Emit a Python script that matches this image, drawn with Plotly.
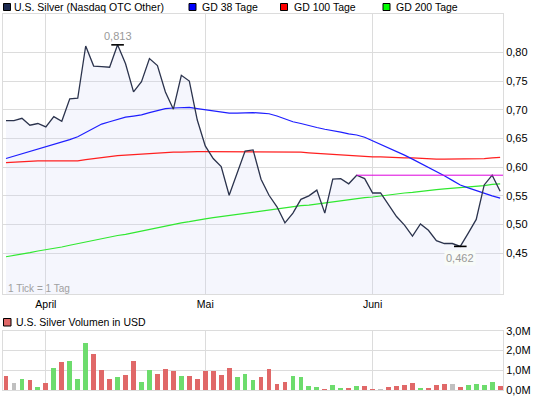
import plotly.graph_objects as go

# ---------------- data ----------------
month_labels = ["April", "Mai", "Juni"]
month_start_idx = [5, 25, 46]

price = [0.681, 0.681, 0.685, 0.673, 0.676, 0.670, 0.688, 0.680, 0.719, 0.720,
         0.811, 0.776, 0.775, 0.774, 0.813, 0.780, 0.731, 0.749, 0.789, 0.777,
         0.731, 0.701, 0.760, 0.750, 0.682, 0.637, 0.615, 0.601, 0.551, 0.589,
         0.628, 0.630, 0.579, 0.551, 0.531, 0.503, 0.520, 0.544, 0.550, 0.560,
         0.520, 0.579, 0.580, 0.571, 0.586, 0.580, 0.555, 0.555, 0.534, 0.514,
         0.499, 0.480, 0.501, 0.490, 0.472, 0.467, 0.467, 0.462, 0.485, 0.509,
         0.569, 0.586, 0.558]

gd38 = [0.615, 0.619, 0.623, 0.627, 0.631, 0.636, 0.640, 0.644, 0.648, 0.653,
        0.660, 0.668, 0.675, 0.679, 0.683, 0.687, 0.689, 0.691, 0.695, 0.699,
        0.702, 0.703, 0.704, 0.704, 0.702, 0.700, 0.698, 0.696, 0.694, 0.694,
        0.695, 0.695, 0.694, 0.693, 0.689, 0.684, 0.679, 0.676, 0.672, 0.669,
        0.666, 0.664, 0.661, 0.658, 0.656, 0.652, 0.646, 0.640, 0.634, 0.628,
        0.621, 0.614, 0.607, 0.600, 0.592, 0.585, 0.577, 0.569, 0.564, 0.559,
        0.555, 0.550, 0.546]

gd100 = [0.608, 0.609, 0.610, 0.611, 0.611, 0.611, 0.611, 0.611, 0.611, 0.611,
         0.613, 0.615, 0.617, 0.619, 0.620, 0.621, 0.622, 0.623, 0.624, 0.625,
         0.625, 0.626, 0.626, 0.627, 0.627, 0.627, 0.627, 0.627, 0.627, 0.626,
         0.626, 0.626, 0.626, 0.626, 0.626, 0.626, 0.626, 0.626, 0.625, 0.624,
         0.623, 0.622, 0.621, 0.620, 0.619, 0.619, 0.618, 0.618, 0.617, 0.617,
         0.616, 0.616, 0.615, 0.615, 0.614, 0.614, 0.614, 0.614, 0.615, 0.615,
         0.615, 0.616, 0.617]

gd200 = [0.444, 0.446, 0.449, 0.451, 0.454, 0.456, 0.459, 0.461, 0.464, 0.467,
         0.470, 0.472, 0.475, 0.478, 0.481, 0.483, 0.486, 0.489, 0.492, 0.494,
         0.497, 0.500, 0.503, 0.505, 0.508, 0.510, 0.512, 0.514, 0.516, 0.518,
         0.520, 0.522, 0.524, 0.525, 0.527, 0.529, 0.531, 0.533, 0.534, 0.536,
         0.538, 0.540, 0.541, 0.543, 0.545, 0.547, 0.548, 0.550, 0.552, 0.553,
         0.555, 0.556, 0.558, 0.559, 0.561, 0.562, 0.563, 0.565, 0.566, 0.567,
         0.568, 0.570, 0.571]

volume_m = [0.70, 0.35, 0.55, 0.50, 0.15, 0.35, 1.15, 1.45, 1.50, 0.55,
            2.40, 1.85, 1.05, 0.55, 0.65, 0.75, 1.50, 0.40, 1.05, 0.80,
            1.10, 1.00, 0.70, 0.70, 0.55, 1.00, 1.00, 0.75, 1.15, 0.65,
            0.80, 0.50, 0.65, 1.10, 0.30, 0.40, 0.70, 0.65, 0.20, 0.15,
            0.05, 0.25, 0.10, 0.10, 0.20, 0.20, 0.05, 0.05, 0.15, 0.20,
            0.25, 0.35, 0.10, 0.10, 0.25, 0.30, 0.30, 0.15, 0.25, 0.30,
            0.25, 0.40, 0.20]

volume_dir = ["r", "n", "g", "r", "g", "r", "g", "r", "g", "g",
              "g", "r", "r", "r", "g", "r", "r", "g", "g", "r",
              "r", "r", "g", "r", "r", "r", "r", "r", "r", "g",
              "g", "g", "r", "r", "r", "r", "g", "g", "g", "g",
              "r", "g", "g", "r", "g", "r", "r", "n", "r", "r",
              "r", "r", "g", "r", "r", "r", "n", "r", "g", "g",
              "g", "g", "r"]

price_ticks = [0.45, 0.50, 0.55, 0.60, 0.65, 0.70, 0.75, 0.80]
volume_ticks = [0, 1, 2, 3]
volume_ticktext = ["0,0M", "1,0M", "2,0M", "3,0M"]
resistance_start_idx = 44

# ---------------- layout geometry ----------------
W, H = 535, 398
ML, MR, MT, MB = 3, 32, 14, 8
PW, PH = W - ML - MR, H - MT - MB
FONT = "Liberation Sans, Arial, sans-serif"


def px(x):
    return (x - ML) / PW


def py(y):
    return (H - MB - y) / PH


day_px = 7.97
first_px = 6.0
x_range = [(ML - first_px) / day_px, (W - MR - first_px) / day_px]

idx = list(range(len(price)))
dir_colors = {"r": "#e06868", "g": "#6ddc6d", "n": "#c0c0c0"}
bar_colors = [dir_colors[d] for d in volume_dir]

fig = go.Figure()

# area fill under price
fig.add_trace(go.Scatter(x=idx, y=price, mode="lines", line=dict(width=0),
                         fill="tozeroy", fillcolor="rgba(205,210,245,0.2)",
                         hoverinfo="skip", showlegend=False))
# moving averages
fig.add_trace(go.Scatter(x=idx, y=gd200, mode="lines",
                         line=dict(color="#30e830", width=1.2), showlegend=False))
fig.add_trace(go.Scatter(x=idx, y=gd100, mode="lines",
                         line=dict(color="#ff2020", width=1.2), showlegend=False))
fig.add_trace(go.Scatter(x=idx, y=gd38, mode="lines",
                         line=dict(color="#1e1eff", width=1.2), showlegend=False))
# price line
fig.add_trace(go.Scatter(x=idx, y=price, mode="lines",
                         line=dict(color="#2b334d", width=1.3), showlegend=False))
# resistance line
res_level = price[resistance_start_idx]
fig.add_trace(go.Scatter(x=[resistance_start_idx, x_range[1]], y=[res_level, res_level],
                         mode="lines", line=dict(color="#dd00dd", width=1),
                         showlegend=False))
# max / min markers
pmax = max(price)
pmin = min(price)
imax = price.index(pmax)
imin = price.index(pmin)
fig.add_trace(go.Scatter(x=[imax, imin], y=[pmax, pmin], mode="markers",
                         marker=dict(symbol="line-ew", size=9,
                                     line=dict(color="#000000", width=1.6)),
                         showlegend=False))

# volume bars
fig.add_trace(go.Bar(x=idx, y=volume_m, marker=dict(color=bar_colors, line=dict(width=0)),
                     width=0.6, xaxis="x2", yaxis="y2", showlegend=False))

grid = "#dcdcdc"
axis_common = dict(showline=True, mirror=True, linecolor=grid, linewidth=1,
                   gridcolor=grid, gridwidth=1, zeroline=False, ticks="")

fig.update_layout(
    width=W, height=H,
    margin=dict(l=ML, r=MR, t=MT, b=MB),
    paper_bgcolor="white", plot_bgcolor="white",
    separators=",.",
    font=dict(family=FONT, size=11, color="#000000"),
    showlegend=False,
    bargap=0,
    xaxis=dict(domain=[0, 1], range=x_range, anchor="y",
               tickmode="array", tickvals=month_start_idx, ticktext=month_labels,
               tickfont=dict(size=10.5), **axis_common),
    yaxis=dict(domain=[py(294), 1], range=[0.3791, 0.8667], side="right", anchor="x",
               tickmode="array", tickvals=price_ticks, tickformat=".2f",
               tickfont=dict(size=11), **axis_common),
    xaxis2=dict(domain=[0, 1], range=x_range, anchor="y2", matches="x",
                tickmode="array", tickvals=month_start_idx, showticklabels=False,
                **axis_common),
    yaxis2=dict(domain=[0, py(330.7)], range=[0, 3], side="right", anchor="x2",
                tickmode="array", tickvals=volume_ticks, ticktext=volume_ticktext,
                tickfont=dict(size=11), **axis_common),
)

# ---------------- legend (custom) ----------------
legend_items = [
    ("U.S. Silver (Nasdaq OTC Other)", "#1c2a50", 3.5, 12),
    ("GD 38 Tage", "#0000ff", 189, 200),
    ("GD 100 Tage", "#ff0000", 280.5, 291.5),
    ("GD 200 Tage", "#00ff00", 383, 394),
]
shapes = []
annotations = []
for text, col, sx, tx in legend_items:
    shapes.append(dict(type="rect", xref="paper", yref="paper",
                       x0=px(sx), x1=px(sx + 7), y0=py(10.5), y1=py(3.5),
                       fillcolor=col, line=dict(color="#000000", width=1)))
    annotations.append(dict(text=text, xref="paper", yref="paper", x=px(tx), y=py(7),
                            xanchor="left", yanchor="middle", showarrow=False,
                            font=dict(size=10.5, color="#000000")))

# volume legend
shapes.append(dict(type="rect", xref="paper", yref="paper",
                   x0=px(3.5), x1=px(11), y0=py(326), y1=py(318.5),
                   fillcolor="#e06868", line=dict(color="#000000", width=1)))
annotations.append(dict(text="U.S. Silver Volumen in USD", xref="paper", yref="paper",
                        x=px(14), y=py(322), xanchor="left", yanchor="middle",
                        showarrow=False, font=dict(size=10.5, color="#000000")))

# tick note
annotations.append(dict(text="1 Tick = 1 Tag", xref="paper", yref="paper",
                        x=px(6), y=py(288), xanchor="left", yanchor="middle",
                        showarrow=False, font=dict(size=10, color="#a0a0a0")))

# max / min labels
annotations.append(dict(text=f"{pmax:.3f}".replace(".", ","), x=imax, y=pmax,
                        xref="x", yref="y", showarrow=False, yshift=9,
                        xanchor="center", yanchor="middle",
                        font=dict(size=11, color="#999999")))
annotations.append(dict(text=f"{pmin:.3f}".replace(".", ","), x=imin, y=pmin,
                        xref="x", yref="y", showarrow=False, yshift=-12,
                        xanchor="center", yanchor="middle", bgcolor="#f8fbf8",
                        font=dict(size=11, color="#999999")))

fig.update_layout(shapes=shapes, annotations=annotations)

fig.write_html("out.html",
               config={"displayModeBar": False},
               post_script="document.body.style.margin='0';document.body.style.overflow='hidden';")
